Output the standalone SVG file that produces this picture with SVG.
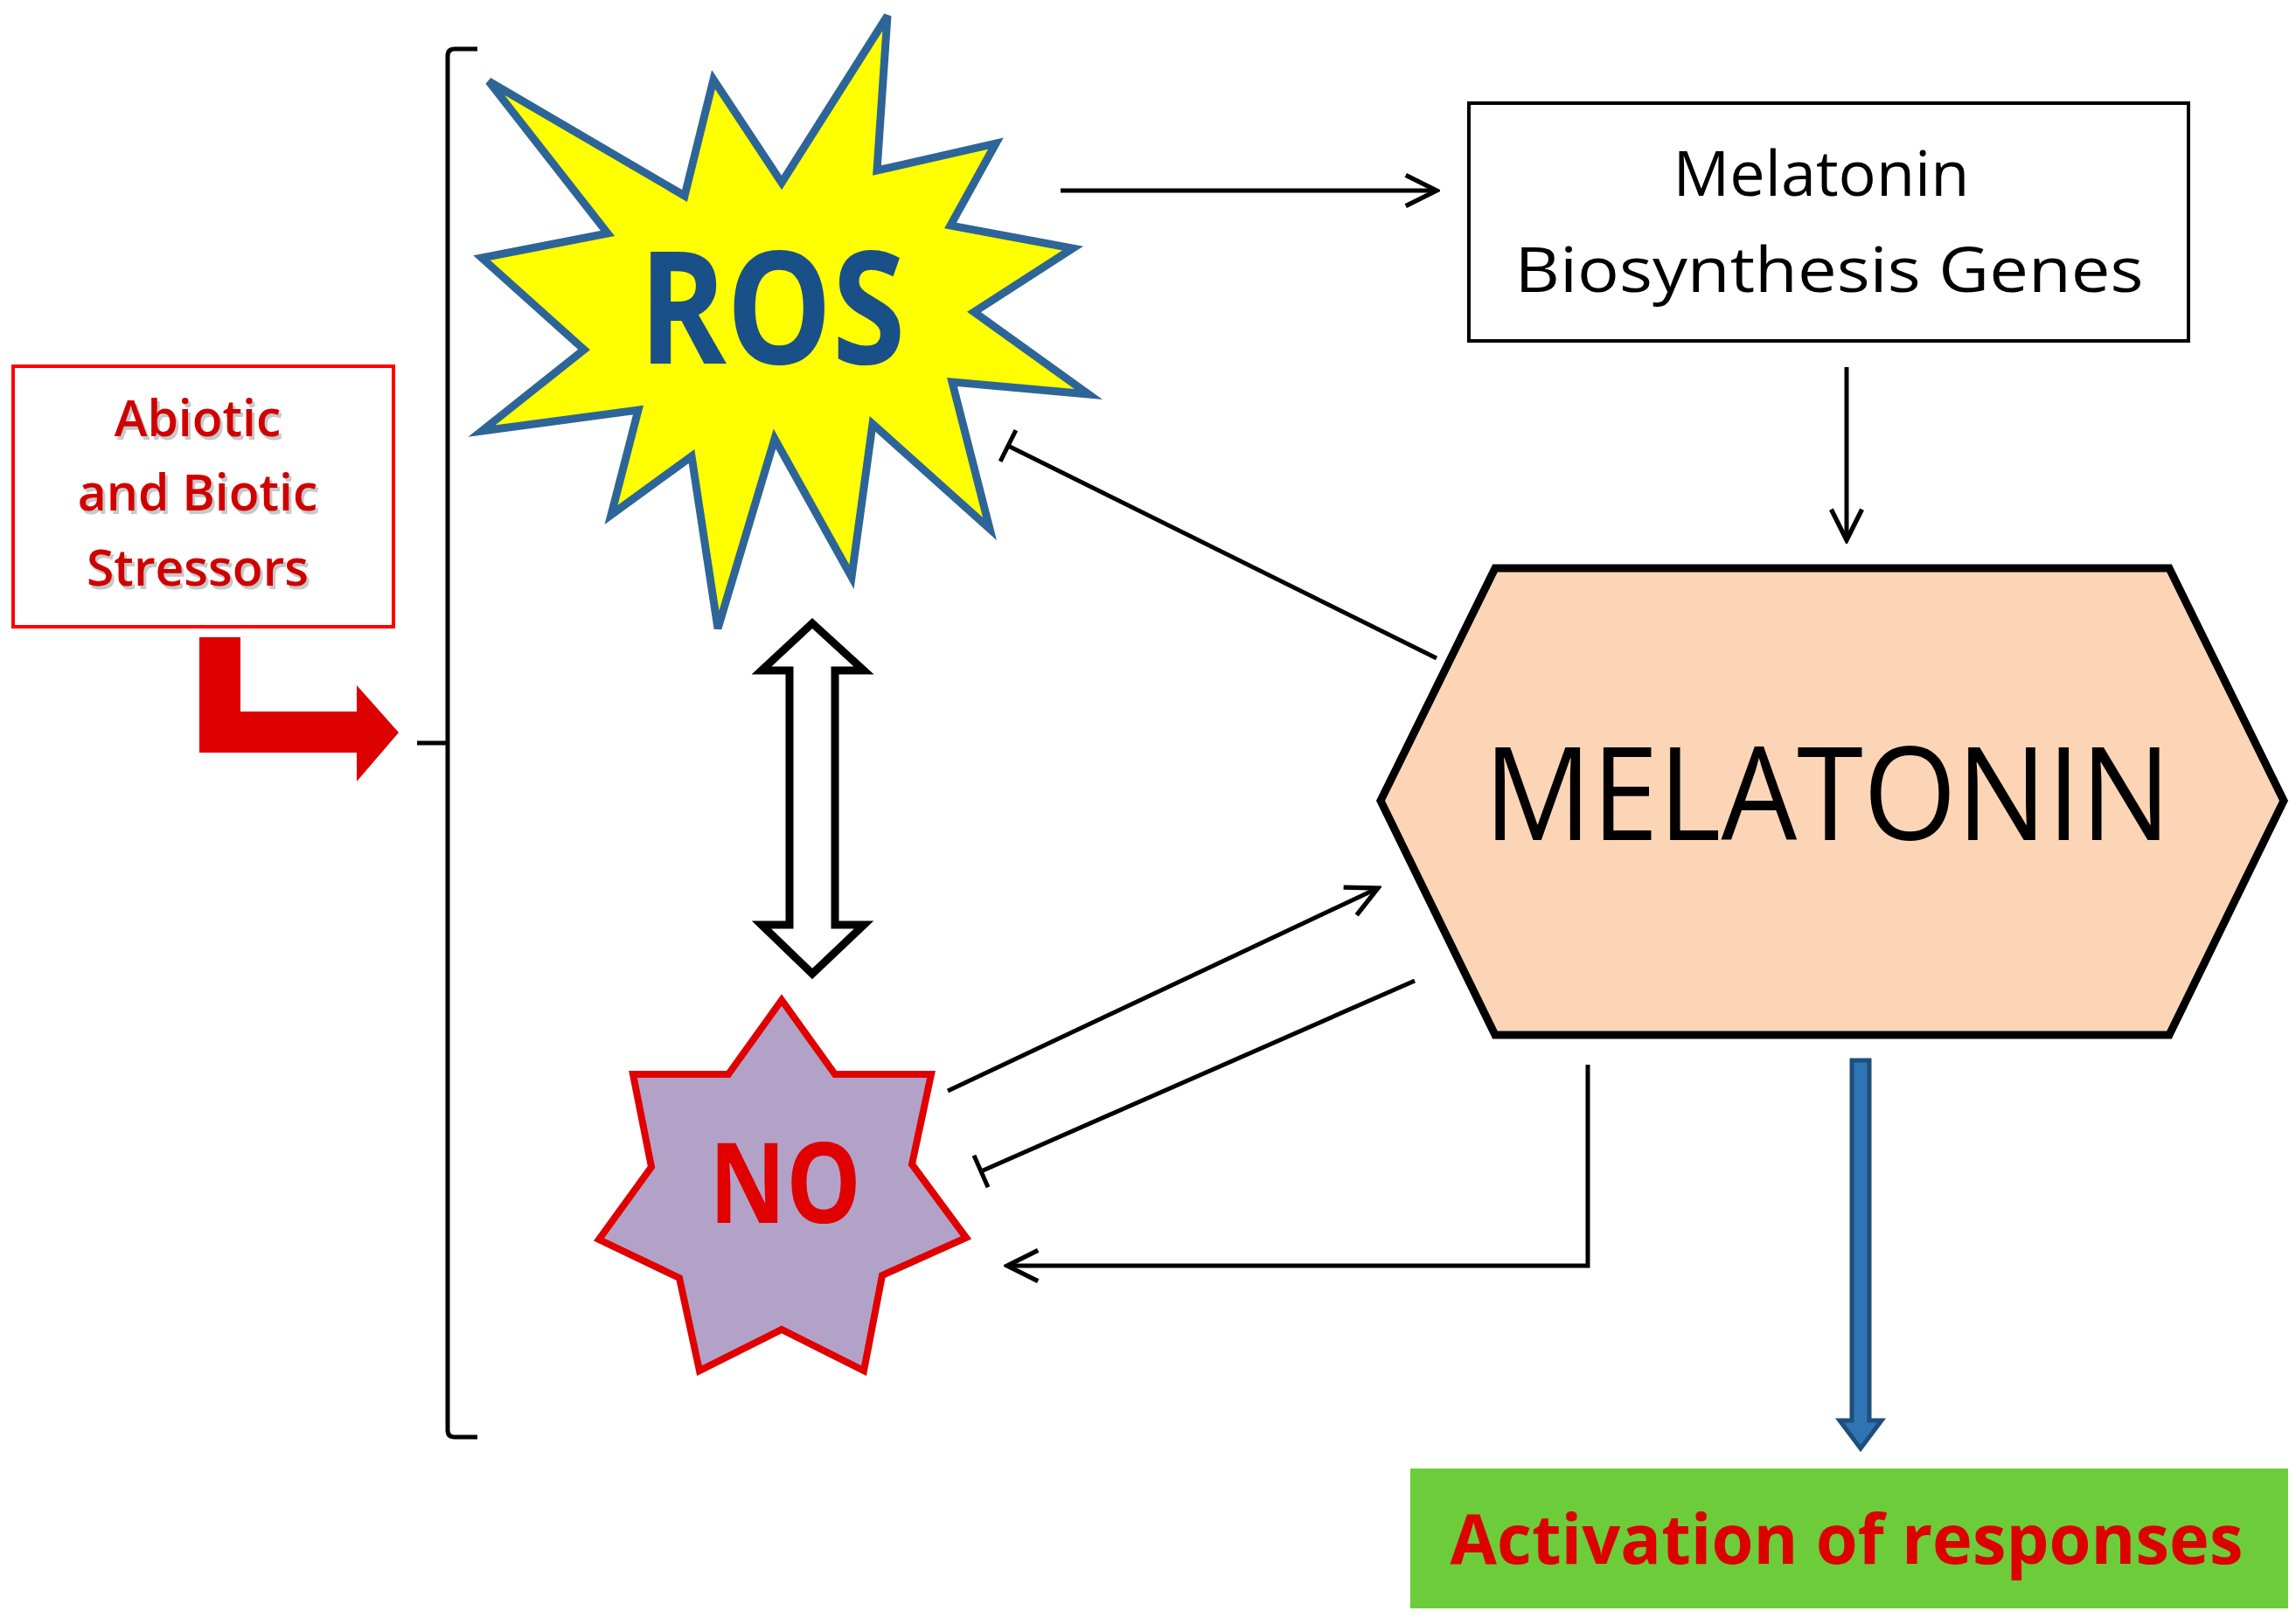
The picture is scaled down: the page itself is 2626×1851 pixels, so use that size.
<svg xmlns="http://www.w3.org/2000/svg" width="2626" height="1851" viewBox="0 0 2626 1851">
<defs>
<style>
.ln{fill:none;stroke:#000;stroke-width:5}
.t{font-family:"Open Sans","Liberation Sans",sans-serif;text-anchor:middle}
</style>
<marker id="oa2" viewBox="0 0 20 20" refX="18" refY="10" markerWidth="44" markerHeight="44" orient="auto" markerUnits="userSpaceOnUse"><path d="M2,2 L18,10 L2,18" fill="none" stroke="#000" stroke-width="2.4"/></marker>
<marker id="tb" viewBox="0 0 10 40" refX="5" refY="20" markerWidth="10" markerHeight="40" orient="auto" markerUnits="userSpaceOnUse"><path d="M5,0 L5,40" stroke="#000" stroke-width="5"/></marker>
</defs>
<rect width="2626" height="1851" fill="#fff"/>

<g id="bracket"><path class="ln" d="M546,56 L520,56 Q512,56 512,64 L512,1636 Q512,1644 520,1644 L546,1644 M477,850 L512,850"/></g>

<g id="stressors">
<rect x="15" y="419" width="435" height="298" fill="#fff" stroke="#ff0000" stroke-width="4"/>
<g class="t" font-size="57" font-weight="600">
<text x="229" y="503" fill="#c8c8c8">Abiotic</text><text x="226" y="499" fill="#d00000">Abiotic</text>
<text x="229" y="588" fill="#c8c8c8">and Biotic</text><text x="226" y="584" fill="#d00000">and Biotic</text>
<text x="229" y="674" fill="#c8c8c8">Stressors</text><text x="226" y="670" fill="#d00000">Stressors</text>
</g>
<path d="M228,729 L275,729 L275,814 L408,814 L408,784 L456,838 L408,894 L408,861 L228,861 Z" fill="#dd0000"/>
</g>

<g id="ros">
<polygon points="559,93 783,224 816,91 894,209 1015,18 1003,195 1139,164 1087,258 1227,284 1114,357 1245,451 1089,437 1132,605 998,485 974,660 886,502 821,719 791,522 699,589 730,469 551,493 668,400 551,295 695,267" fill="#ffff00" stroke="#2e6598" stroke-width="9" stroke-linejoin="miter"/>
<text class="t" x="883" y="416" font-size="180" font-weight="bold" fill="#1a5088" textLength="305" lengthAdjust="spacingAndGlyphs">ROS</text>
</g>

<g id="no">
<polygon points="894,1144 955,1229 1065,1229 1043,1332 1105,1416 1009,1459 988,1568 894,1521 800,1568 777,1462 685,1418 745,1335 724,1229 833,1229" fill="#b3a2c7" stroke="#e00000" stroke-width="8"/>
<text class="t" x="898" y="1399" font-size="128" font-weight="bold" fill="#e00000" textLength="174" lengthAdjust="spacingAndGlyphs">NO</text>
</g>

<g id="genes">
<rect x="1680" y="118" width="823" height="272" fill="#fff" stroke="#000" stroke-width="4"/>
<text class="t" x="2083" y="224" font-size="72" fill="#000">Melatonin</text>
<text class="t" x="2092" y="334" font-size="72" fill="#000" textLength="719" lengthAdjust="spacingAndGlyphs">Biosynthesis Genes</text>
</g>

<g id="melatonin">
<polygon points="1710,650 2481,650 2612,916 2481,1184 1710,1184 1579,916" fill="#fbd5b5" stroke="#000" stroke-width="9"/>
<text class="t" x="2090" y="961" font-size="148" fill="#000" textLength="786" lengthAdjust="spacingAndGlyphs">MELATONIN</text>
</g>

<g id="responses">
<rect x="1613" y="1680" width="1004" height="160" fill="#6dcc3a"/>
<text class="t" x="2112" y="1789" font-size="78" font-weight="bold" fill="#dd0000" textLength="907" lengthAdjust="spacingAndGlyphs">Activation of responses</text>
</g>

<g id="connectors">
<line class="ln" x1="1213" y1="218" x2="1643" y2="218" marker-end="url(#oa2)"/>
<line class="ln" x1="2112" y1="420" x2="2112" y2="618" marker-end="url(#oa2)"/>
<line class="ln" x1="1643" y1="753" x2="1153" y2="510" marker-end="url(#tb)"/>
<line class="ln" x1="1084" y1="1248" x2="1576" y2="1016" marker-end="url(#oa2)"/>
<line class="ln" x1="1618" y1="1122" x2="1122" y2="1340" marker-end="url(#tb)"/>
<polyline class="ln" points="1816,1218 1816,1448 1152,1448" marker-end="url(#oa2)"/>
<path d="M929,713 L988,767 L955,767 L955,1058 L988,1058 L929,1114 L871,1058 L903,1058 L903,767 L871,767 Z" fill="#fff" stroke="#000" stroke-width="9" stroke-linejoin="miter"/>
<path d="M2118,1213 L2138,1213 L2138,1625 L2152,1625 L2128,1657 L2104,1625 L2118,1625 Z" fill="#2e75b6" stroke="#1f4e79" stroke-width="5"/>
</g>
</svg>
